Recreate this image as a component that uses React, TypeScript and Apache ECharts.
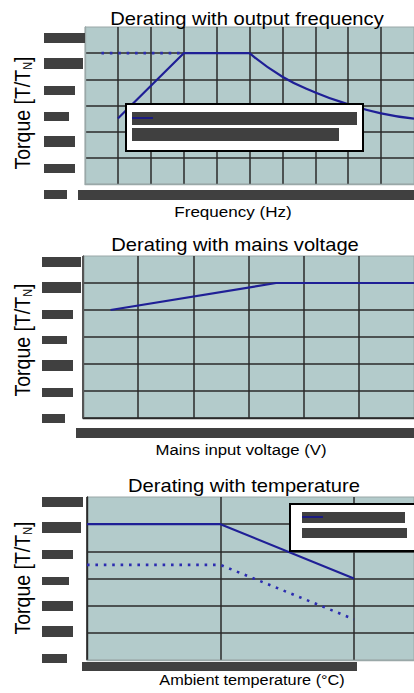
import React, { useEffect, useRef } from "react";
import * as echarts from "echarts";

// ---- data ----
const freqRampX = [10, 30, 50];
const freqRampY = [0.5, 1.0, 1.0];
const freqDecayX = [50, 60, 70, 80, 90, 100];
const freqDecayY = [1.0, 0.82, 0.7, 0.61, 0.54, 0.5];
const freqDottedX = [5, 30];
const freqDottedY = [1.0, 1.0];

const voltX = [330, 390, 440];
const voltY = [0.8, 1.0, 1.0];

const tempSolidX = [30, 40, 50];
const tempSolidY = [1.0, 1.0, 0.6];
const tempDottedX = [30, 40, 50];
const tempDottedY = [0.7, 0.7, 0.3];

const titles = [
  "Derating with output frequency",
  "Derating with mains voltage",
  "Derating with temperature",
];
const xNames = ["Frequency (Hz)", "Mains input voltage (V)", "Ambient temperature (°C)"];

const FONT = "'Liberation Sans', Arial, Helvetica, sans-serif";
const BG = "#b3cbcb";
const LINE = "#1f1f96";
const GRIDLINE = "#2a2a2a";
const RED = "#404040";

const zip = (xs: number[], ys: number[]) => xs.map((x, i) => [x, ys[i]]);

function App() {
  const ref = useRef<HTMLDivElement>(null);
  useEffect(() => {
    if (!ref.current) return;
    const chart = echarts.init(ref.current, undefined, { renderer: "svg" });

    const gridBase = {
      show: true,
      backgroundColor: BG,
      borderColor: "#9aa8a8",
      borderWidth: 1,
      containLabel: false,
    };
    const split = (minLine: boolean, maxLine: boolean) => ({
      show: true,
      showMinLine: minLine,
      showMaxLine: maxLine,
      lineStyle: { color: GRIDLINE, width: 1.5 },
    });
    const xAx = (gi: number, min: number, max: number, interval: number, lineColor: string, minLine: boolean) => ({
      type: "value",
      gridIndex: gi,
      min,
      max,
      interval,
      axisLabel: { show: false },
      axisTick: { show: false },
      axisLine: { show: true, lineStyle: { color: lineColor, width: 1.4 } },
      splitLine: split(minLine, false),
    });
    const yAx = (gi: number, lineColor: string, minLine: boolean) => ({
      type: "value",
      gridIndex: gi,
      min: 0,
      max: 1.2,
      interval: 0.2,
      axisLabel: { show: false },
      axisTick: { show: false },
      axisLine: { show: true, lineStyle: { color: lineColor, width: 1.4 } },
      splitLine: split(minLine, false),
    });
    const solid = (xi: number, data: number[][], smooth: number | boolean = false) => ({
      type: "line",
      xAxisIndex: xi,
      yAxisIndex: xi,
      data,
      smooth,
      showSymbol: false,
      symbol: "none",
      lineStyle: { color: LINE, width: 2.2 },
      z: 3,
    });
    const dotted = (xi: number, data: number[][]) => ({
      type: "line",
      xAxisIndex: xi,
      yAxisIndex: xi,
      data,
      showSymbol: false,
      symbol: "none",
      lineStyle: { color: "#2c2cb0", width: 2.6, type: [2.6, 5.8], cap: "butt" },
      z: 3,
    });

    const rect = (x: number, y: number, w: number, h: number) => ({
      type: "rect",
      z: 100,
      shape: { x, y, width: w, height: h },
      style: { fill: RED },
    });
    const text = (x: number, y: number, t: string, size: number, sx: number) => ({
      type: "text",
      x,
      y,
      scaleX: sx,
      z: 100,
      style: {
        text: t,
        x: 0,
        y: 0,
        textAlign: "center",
        textVerticalAlign: "middle",
        fontSize: size,
        fontFamily: FONT,
        fill: "#000",
      },
    });
    const yName = (x: number, y: number) => ({
      type: "text",
      x,
      y,
      rotation: Math.PI / 2,
      scaleY: 1.1,
      z: 100,
      style: {
        text: "{a|Torque [T/T}{s|N}{a|]}",
        x: 0,
        y: 0,
        textAlign: "center",
        textVerticalAlign: "middle",
        fill: "#000",
        rich: {
          a: { fontSize: 19.5, fontFamily: FONT, fill: "#000", lineHeight: 22, verticalAlign: "middle" },
          s: { fontSize: 11, fontFamily: FONT, fill: "#000", lineHeight: 12, verticalAlign: "bottom" },
        },
      },
    });
    const legendBox = (x: number, y: number, w: number, h: number) => ({
      type: "rect",
      z: 90,
      shape: { x, y, width: w, height: h },
      style: { fill: "#fff", stroke: "#000", lineWidth: 2 },
    });
    const legendLine = (x1: number, x2: number, y: number) => ({
      type: "line",
      z: 110,
      shape: { x1, y1: y, x2, y2: y },
      style: { stroke: "#1a1a80", lineWidth: 2 },
    });

    const elements: any[] = [
      // chart 1
      text(247, 19, titles[0], 18, 1.12),
      text(233, 211, xNames[0], 15.5, 1.1),
      yName(22, 113),
      rect(44, 33, 41, 10),
      rect(44, 58, 39, 11),
      rect(44, 86, 31, 9),
      rect(44, 112, 25, 9),
      rect(44, 136, 31, 11),
      rect(44, 164, 31, 9),
      rect(44, 190, 23, 9),
      rect(78, 190, 336, 10),
      legendBox(126, 104, 237, 47),
      rect(132, 112, 225, 13),
      rect(132, 128, 207, 13),
      legendLine(132, 153, 118),
      // chart 2
      text(235, 245, titles[1], 18, 1.12),
      text(241, 449, xNames[1], 15.5, 1.08),
      yName(22, 340),
      rect(42, 257, 39, 10),
      rect(42, 282, 39, 11),
      rect(42, 310, 31, 9),
      rect(42, 336, 25, 8),
      rect(42, 360, 31, 11),
      rect(42, 388, 31, 9),
      rect(42, 414, 23, 9),
      rect(76, 428, 338, 10),
      // chart 3
      text(244, 486, titles[2], 18, 1.12),
      text(252, 680, xNames[2], 15.5, 1.05),
      yName(22, 578),
      rect(42, 497, 41, 10),
      rect(42, 522, 39, 11),
      rect(42, 550, 31, 9),
      rect(42, 577, 27, 8),
      rect(42, 601, 31, 10),
      rect(42, 626, 31, 11),
      rect(42, 654, 25, 9),
      rect(82, 662, 275, 9),
      legendBox(290, 504, 126, 47),
      rect(302, 512, 103, 11),
      rect(302, 528, 105, 10),
      legendLine(302, 323, 517),
    ];

    chart.setOption({
      animation: false,
      grid: [
        { ...gridBase, left: 85, top: 27, width: 330, height: 157 },
        { ...gridBase, left: 83, top: 256, width: 331, height: 162 },
        { ...gridBase, left: 87, top: 497, width: 327, height: 163 },
      ],
      xAxis: [
        xAx(0, 0, 100, 10, "#9aa8a8", false),
        xAx(1, 320, 440, 20, GRIDLINE, true),
        xAx(2, 30, 54.5, 10, "#9aa8a8", true),
      ],
      yAxis: [yAx(0, "#9aa8a8", false), yAx(1, "#555", true), yAx(2, GRIDLINE, false)],
      series: [
        dotted(0, zip(freqDottedX, freqDottedY)),
        solid(0, zip(freqRampX, freqRampY)),
        solid(0, zip(freqDecayX, freqDecayY), 0.5),
        solid(1, zip(voltX, voltY)),
        solid(2, zip(tempSolidX, tempSolidY)),
        dotted(2, zip(tempDottedX, tempDottedY)),
      ],
      graphic: { elements },
    });
    return () => chart.dispose();
  }, []);
  return (
    <div
      ref={ref}
      style={{ position: "fixed", left: 0, top: 0, width: 414, height: 693, background: "#fff" }}
    />
  );
}

export default App;
